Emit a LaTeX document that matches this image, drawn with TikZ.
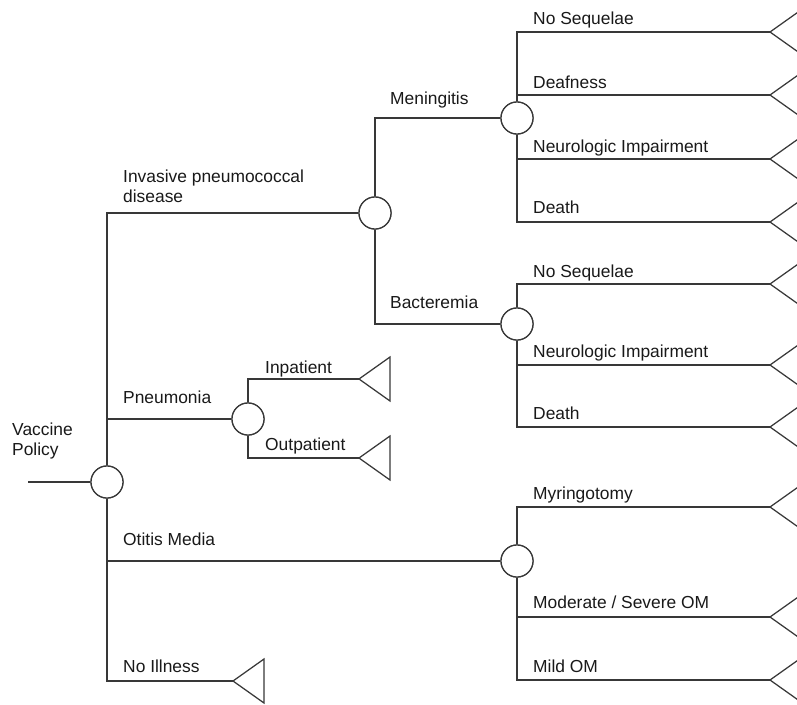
\documentclass[tikz,border=0pt]{standalone}
\usepackage{fontspec}
\setmainfont{Liberation Sans}
\begin{document}
\begin{tikzpicture}[x=1pt,y=-1pt,
  treeline/.style={draw=black!78, line width=1.25pt},
  chance/.style={circle, draw=black!78, line width=1.25pt, fill=white, minimum size=32pt, inner sep=0pt},
  lbl/.style={anchor=base west, inner sep=0pt, text=black!90, font=\fontsize{17.4}{20}\selectfont, align=left},
  terminal/.pic={\draw[treeline, line join=miter] (0,0) -- (31,-22) -- (31,22) -- cycle;}
]
\useasboundingbox (0,0) rectangle (797,704);
\clip (0,0) rectangle (797,704);

% chance nodes
\node[chance] (root) at (107,482) {};
\node[chance] (ipd)  at (375,213) {};
\node[chance] (pneu) at (248,419) {};
\node[chance] (otit) at (517,561) {};
\node[chance] (mening) at (517,118) {};
\node[chance] (bact) at (517,324) {};

% terminal apexes
\coordinate (start) at (28,482);
\coordinate (tNoIll) at (233,681);
\coordinate (tInp)  at (359,379);
\coordinate (tOutp) at (359,458);
\coordinate (tM1) at (770,32);
\coordinate (tM2) at (770,95);
\coordinate (tM3) at (770,159);
\coordinate (tM4) at (770,222);
\coordinate (tB1) at (770,284);
\coordinate (tB2) at (770,365);
\coordinate (tB3) at (770,427);
\coordinate (tO1) at (770,507);
\coordinate (tO2) at (770,617);
\coordinate (tO3) at (770,680);

% branches
\draw[treeline] (start) -- (root);
\draw[treeline] (root) |- (ipd);
\draw[treeline] (root) |- (pneu);
\draw[treeline] (root) |- (otit);
\draw[treeline] (root) |- (tNoIll);
\draw[treeline] (ipd) |- (mening);
\draw[treeline] (ipd) |- (bact);
\draw[treeline] (pneu) |- (tInp);
\draw[treeline] (pneu) |- (tOutp);
\foreach \t in {tM1,tM2,tM3,tM4} \draw[treeline] (mening) |- (\t);
\foreach \t in {tB1,tB2,tB3} \draw[treeline] (bact) |- (\t);
\foreach \t in {tO1,tO2,tO3} \draw[treeline] (otit) |- (\t);

% redraw chance nodes over the lines
\foreach \n in {root,ipd,pneu,otit,mening,bact}
  \node[chance] at (\n) {};

% terminal triangles
\foreach \t in {tNoIll,tInp,tOutp,tM1,tM2,tM3,tM4,tB1,tB2,tB3,tO1,tO2,tO3}
  \pic at (\t) {terminal};

% labels (two-line labels are placed by the baseline of their last line)
\node[lbl] (lVac) at (12,455) {Vaccine\\Policy};
\node[lbl] (lIpd) at (123,202) {Invasive pneumococcal\\disease};
\node[lbl] (lPneu) at (123,403) {Pneumonia};
\node[lbl] (lOtit) at (123,545) {Otitis Media};
\node[lbl] (lNoIll) at (123,672) {No Illness};
\node[lbl] (lMen) at (390,104) {Meningitis};
\node[lbl] (lBac) at (390,308) {Bacteremia};
\node[lbl] (lInp) at (265,373) {Inpatient};
\node[lbl] (lOutp) at (265,450) {Outpatient};
\node[lbl] (lM1) at (533,24) {No Sequelae};
\node[lbl] (lM2) at (533,88) {Deafness};
\node[lbl] (lM3) at (533,152) {Neurologic Impairment};
\node[lbl] (lM4) at (533,213) {Death};
\node[lbl] (lB1) at (533,277) {No Sequelae};
\node[lbl] (lB2) at (533,357) {Neurologic Impairment};
\node[lbl] (lB3) at (533,419) {Death};
\node[lbl] (lO1) at (533,499) {Myringotomy};
\node[lbl] (lO2) at (533,608) {Moderate / Severe OM};
\node[lbl] (lO3) at (533,672) {Mild OM};
\end{tikzpicture}
\end{document}
